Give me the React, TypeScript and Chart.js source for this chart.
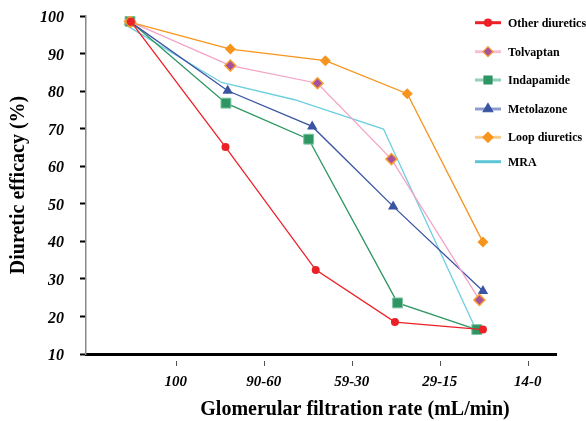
import React, { useEffect, useRef } from 'react';
import { Chart, registerables } from 'chart.js';

Chart.register(...registerables);

const categories = ['100', '90-60', '59-30', '29-15', '14-0'];
const categoryPositions = [1, 2, 3, 4, 5];

const otherX = [0.49, 1.565, 2.59, 3.49, 4.49];
const otherY = [98.5, 65.1, 32.4, 18.5, 16.5];

const tolvaptanX = [0.48, 1.62, 2.61, 3.45, 4.45];
const tolvaptanY = [98.5, 86.8, 82.1, 61.9, 24.4];

const indapamideX = [0.48, 1.57, 2.51, 3.52, 4.42];
const indapamideY = [98.6, 76.8, 67.2, 23.6, 16.5];

const metolazoneX = [0.49, 1.59, 2.55, 3.47, 4.49];
const metolazoneY = [98.3, 80.1, 70.6, 49.3, 26.8];

const loopX = [0.49, 1.62, 2.7, 3.63, 4.49];
const loopY = [98.3, 91.2, 88.1, 79.3, 39.8];

const mraX = [0.41, 1.52, 2.35, 3.36, 4.41];
const mraY = [97.9, 82.3, 77.7, 69.9, 16.5];

const FONT = "'Liberation Serif', 'Times New Roman', serif";

const pts = (xs: number[], ys: number[]) => xs.map((x, i) => ({ x, y: ys[i] }));

type LegendItem = {
  label: string;
  line: string;
  style: string | false;
  fill: string;
  stroke: string;
  r: number;
};

const legendItems: LegendItem[] = [
  { label: 'Other diuretics', line: '#ec2027', style: 'circle', fill: '#ec2027', stroke: '#ec2027', r: 3.5 },
  { label: 'Tolvaptan', line: '#f6bfd6', style: 'diamond', fill: '#a8509b', stroke: '#f7a030', r: 5 },
  { label: 'Indapamide', line: '#93d0b4', style: 'square', fill: '#2e9663', stroke: '#2e9663', r: 4 },
  { label: 'Metolazone', line: '#8e9ccf', style: 'triangle', fill: '#3a54a4', stroke: '#3a54a4', r: 5.5 },
  { label: 'Loop diuretics', line: '#fbcb8d', style: 'diamond', fill: '#f7941d', stroke: '#f7941d', r: 5 },
  { label: 'MRA', line: '#5fc6d6', style: false, fill: '', stroke: '', r: 0 },
];
const legendRowY = [22.7, 51.7, 80, 109, 137.3, 161.7];

function drawMarker(ctx: CanvasRenderingContext2D, style: string, x: number, y: number, r: number, fill: string, stroke: string) {
  ctx.save();
  ctx.beginPath();
  if (style === 'circle') {
    ctx.arc(x, y, r, 0, Math.PI * 2);
  } else if (style === 'diamond') {
    ctx.moveTo(x, y - r);
    ctx.lineTo(x + r, y);
    ctx.lineTo(x, y + r);
    ctx.lineTo(x - r, y);
    ctx.closePath();
  } else if (style === 'square') {
    ctx.rect(x - r, y - r, 2 * r, 2 * r);
  } else if (style === 'triangle') {
    ctx.moveTo(x, y - r);
    ctx.lineTo(x + r * 0.866, y + r * 0.5);
    ctx.lineTo(x - r * 0.866, y + r * 0.5);
    ctx.closePath();
  }
  ctx.fillStyle = fill;
  ctx.fill();
  ctx.lineWidth = 1.2;
  ctx.strokeStyle = stroke;
  ctx.stroke();
  ctx.restore();
}

const decorPlugin = {
  id: 'decor',
  afterDraw(chart: any) {
    const ctx: CanvasRenderingContext2D = chart.ctx;
    const xs = chart.scales.x;
    const ys = chart.scales.y;
    ctx.save();
    // detached x tick marks
    ctx.strokeStyle = '#555';
    ctx.lineWidth = 1;
    categoryPositions.forEach((v) => {
      const px = Math.round(xs.getPixelForValue(v)) + 0.5;
      ctx.beginPath();
      ctx.moveTo(px, ys.bottom + 7);
      ctx.lineTo(px, ys.bottom + 12);
      ctx.stroke();
    });
    // axis titles
    ctx.fillStyle = '#000';
    ctx.font = `bold 20px ${FONT}`;
    ctx.textAlign = 'center';
    ctx.textBaseline = 'alphabetic';
    ctx.fillText('Glomerular filtration rate (mL/min)', 355, 415);
    ctx.save();
    ctx.translate(24, (ys.top + ys.bottom) / 2);
    ctx.rotate(-Math.PI / 2);
    ctx.fillText('Diuretic efficacy (%)', 0, 0);
    ctx.restore();
    // legend
    ctx.font = `bold 12px ${FONT}`;
    ctx.textAlign = 'left';
    ctx.textBaseline = 'middle';
    legendItems.forEach((it, i) => {
      const y = legendRowY[i];
      ctx.strokeStyle = it.line;
      ctx.lineWidth = 3;
      ctx.beginPath();
      ctx.moveTo(475, y);
      ctx.lineTo(501, y);
      ctx.stroke();
      if (it.style) drawMarker(ctx, it.style, 488, y, it.r, it.fill, it.stroke);
      ctx.fillStyle = '#000';
      ctx.fillText(it.label, 508, y + 1);
    });
    ctx.restore();
  },
};

export default function App() {
  const ref = useRef<HTMLCanvasElement>(null);
  useEffect(() => {
    if (!ref.current) return;
    const chart = new Chart(ref.current, {
      type: 'line',
      data: {
        datasets: [
          {
            label: 'Other diuretics',
            data: pts(otherX, otherY),
            borderColor: '#ec2027',
            backgroundColor: '#ec2027',
            borderWidth: 1.3,
            pointStyle: 'circle',
            pointRadius: 4,
            pointBorderWidth: 0,
            order: 1,
          },
          {
            label: 'Tolvaptan',
            data: pts(tolvaptanX, tolvaptanY),
            borderColor: '#f4a3c6',
            backgroundColor: '#a8509b',
            pointBorderColor: '#f7a030',
            borderWidth: 1.3,
            pointStyle: 'rectRot',
            pointRadius: 5.5,
            pointBorderWidth: 1.5,
            order: 3,
          },
          {
            label: 'Indapamide',
            data: pts(indapamideX, indapamideY),
            borderColor: '#2e9663',
            backgroundColor: '#2e9663',
            pointBorderColor: '#7cc6a2',
            borderWidth: 1.3,
            pointStyle: 'rect',
            pointRadius: 7,
            pointBorderWidth: 1,
            order: 5,
          },
          {
            label: 'Metolazone',
            data: pts(metolazoneX, metolazoneY),
            borderColor: '#3a54a4',
            backgroundColor: '#3a54a4',
            borderWidth: 1.3,
            pointStyle: 'triangle',
            pointRadius: 6,
            pointBorderWidth: 0,
            order: 4,
          },
          {
            label: 'Loop diuretics',
            data: pts(loopX, loopY),
            borderColor: '#f7941d',
            backgroundColor: '#f7941d',
            borderWidth: 1.3,
            pointStyle: 'rectRot',
            pointRadius: 5.5,
            pointBorderWidth: 0,
            order: 2,
          },
          {
            label: 'MRA',
            data: pts(mraX, mraY),
            borderColor: '#6ccfe0',
            backgroundColor: '#6ccfe0',
            borderWidth: 1.3,
            pointRadius: 0,
            order: 6,
          },
        ],
      },
      options: {
        animation: false,
        responsive: false,
        maintainAspectRatio: false,
        layout: { padding: { top: 16, right: 30, left: 0, bottom: 0 } },
        plugins: { legend: { display: false }, tooltip: { enabled: false } },
        scales: {
          x: {
            type: 'linear',
            min: -0.02,
            max: 5.32,
            afterBuildTicks: (s: any) => {
              s.ticks = categoryPositions.map((v) => ({ value: v }));
            },
            afterFit: (s: any) => {
              s.height = 67;
              s.paddingLeft = 0;
              s.paddingRight = 0;
            },
            grid: { display: false, drawTicks: false },
            border: { display: true, color: '#000', width: 3 },
            ticks: {
              color: '#000',
              padding: 19,
              maxRotation: 0,
              autoSkip: false,
              font: { family: FONT, size: 15, weight: 'bold', style: 'italic' },
              callback: (v: any) => categories[categoryPositions.indexOf(Number(v))] ?? '',
            },
          },
          y: {
            type: 'linear',
            min: 10,
            max: 100,
            afterFit: (s: any) => {
              s.width = 86;
              s.paddingTop = 0;
              s.paddingBottom = 0;
            },
            grid: { drawOnChartArea: false, tickLength: 6, tickWidth: 2, tickColor: '#000' },
            border: { display: true, color: '#888', width: 1.5 },
            ticks: {
              stepSize: 10,
              color: '#000',
              padding: 16,
              labelOffset: 2,
              font: { family: FONT, size: 16, weight: 'bold', style: 'italic' },
            },
          },
        },
      },
      plugins: [decorPlugin],
    } as any);
    return () => chart.destroy();
  }, []);
  return (
    <div style={{ position: 'absolute', left: 0, top: 0, width: 586, height: 421, background: '#fff' }}>
      <canvas ref={ref} width={586} height={421} style={{ width: 586, height: 421 }} />
    </div>
  );
}
